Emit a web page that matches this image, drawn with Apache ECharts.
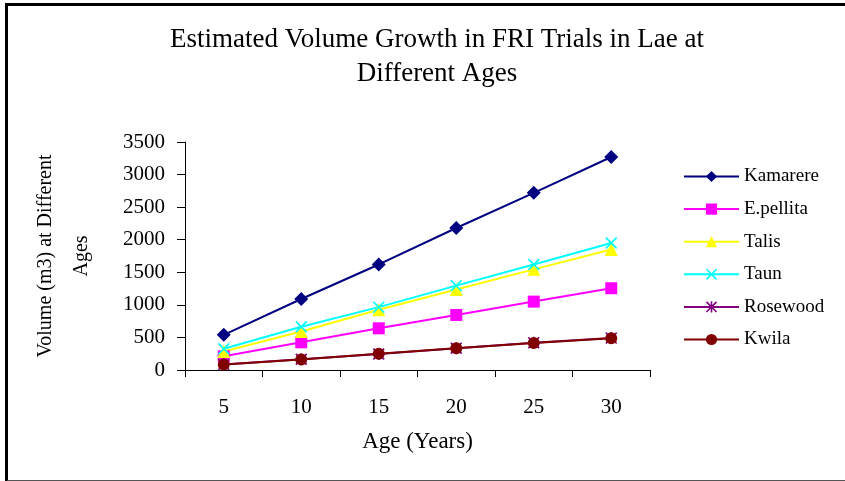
<!DOCTYPE html>
<html>
<head>
<meta charset="utf-8">
<script src="https://cdn.jsdelivr.net/npm/echarts@6/dist/echarts.min.js"></script>
<style>
  html, body { margin: 0; padding: 0; background: #fff; }
  #chart { width: 845px; height: 481px; position: absolute; left: 0; top: 0; }
  .frame {
    position: absolute; left: 5px; top: 3px; width: 845px; height: 474px;
    border-left: 3px solid #000; border-top: 3px solid #000; border-bottom: 2px solid #555;
    pointer-events: none;
  }
</style>
</head>
<body>
<div id="chart"></div>
<div class="frame"></div>
<script>
// ages on the x axis
const ages = ['5', '10', '15', '20', '25', '30']
// volume (m3) per species
const kamarere = [540, 1090, 1620, 2180, 2720, 3270]
const epellita = [210, 425, 640, 845, 1050, 1255]
const talis = [285, 590, 925, 1235, 1545, 1850]
const taun = [325, 665, 965, 1295, 1620, 1950]
const rosewood = [85, 165, 245, 335, 420, 490]
const kwila = [85, 160, 250, 333, 415, 488]

// marker shapes that echarts has no name for
const crossPath = 'path://M0,1 L1,0 L5,4 L9,0 L10,1 L6,5 L10,9 L9,10 L5,6 L1,10 L0,9 L4,5 Z'
const starPath = 'path://M0,1 L1,0 L5,4 L9,0 L10,1 L6,5 L10,9 L9,10 L5,6 L1,10 L0,9 L4,5 Z M4.3,0 L5.7,0 L5.7,10 L4.3,10 Z'

const font = 'Liberation Serif'

function line(name, data, color, symbol, size) {
  return {
    name: name,
    type: 'line',
    data: data,
    symbol: symbol,
    symbolSize: size,
    showAllSymbol: true,
    lineStyle: { color: color, width: 2 },
    itemStyle: { color: color },
    animation: false
  }
}

const chart = echarts.init(document.getElementById('chart'))
chart.setOption({
  backgroundColor: '#fff',
  title: {
    text: 'Estimated Volume Growth in FRI Trials in Lae at\nDifferent Ages',
    left: 432,
    textAlign: 'center',
    top: 18,
    textStyle: { fontFamily: font, fontSize: 27, fontWeight: 'normal', color: '#000', lineHeight: 34 }
  },
  legend: {
    orient: 'vertical',
    left: 678,
    top: 162,
    itemWidth: 55,
    itemHeight: 14,
    itemGap: 13.6,
    textStyle: { fontFamily: font, fontSize: 19, color: '#000' },
    data: ['Kamarere', 'E.pellita', 'Talis', 'Taun', 'Rosewood', 'Kwila']
  },
  grid: { left: 185, top: 142, right: 195, bottom: 111, containLabel: false },
  xAxis: {
    type: 'category',
    data: ages,
    boundaryGap: true,
    name: 'Age (Years)',
    nameLocation: 'middle',
    nameGap: 60,
    nameTextStyle: { fontFamily: font, fontSize: 23, color: '#000', verticalAlign: 'top' },
    axisLine: { lineStyle: { color: '#000', width: 1 } },
    axisTick: { show: true, length: 7, alignWithLabel: false, lineStyle: { color: '#000' } },
    axisLabel: { fontFamily: font, fontSize: 21, color: '#000', margin: 27 },
    splitLine: { show: false }
  },
  yAxis: {
    type: 'value',
    min: 0,
    max: 3500,
    interval: 500,
    name: 'Volume (m3) at Different\nAges',
    nameLocation: 'middle',
    nameGap: 85,
    nameTextStyle: { fontFamily: font, fontSize: 20, color: '#000', lineHeight: 36 },
    axisLine: { show: true, lineStyle: { color: '#000', width: 1 } },
    axisTick: { show: true, length: 8, lineStyle: { color: '#000' } },
    axisLabel: { fontFamily: font, fontSize: 21, color: '#000', margin: 20, formatter: v => String(v) },
    splitLine: { show: false }
  },
  series: [
    line('Kamarere', kamarere, '#000080', 'diamond', 14),
    line('E.pellita', epellita, '#ff00ff', 'rect', 12),
    line('Talis', talis, '#ffff00', 'triangle', 13),
    line('Taun', taun, '#00ffff', crossPath, 12),
    line('Rosewood', rosewood, '#800080', starPath, 12),
    line('Kwila', kwila, '#800000', 'circle', 12)
  ]
})
</script>
</body>
</html>
